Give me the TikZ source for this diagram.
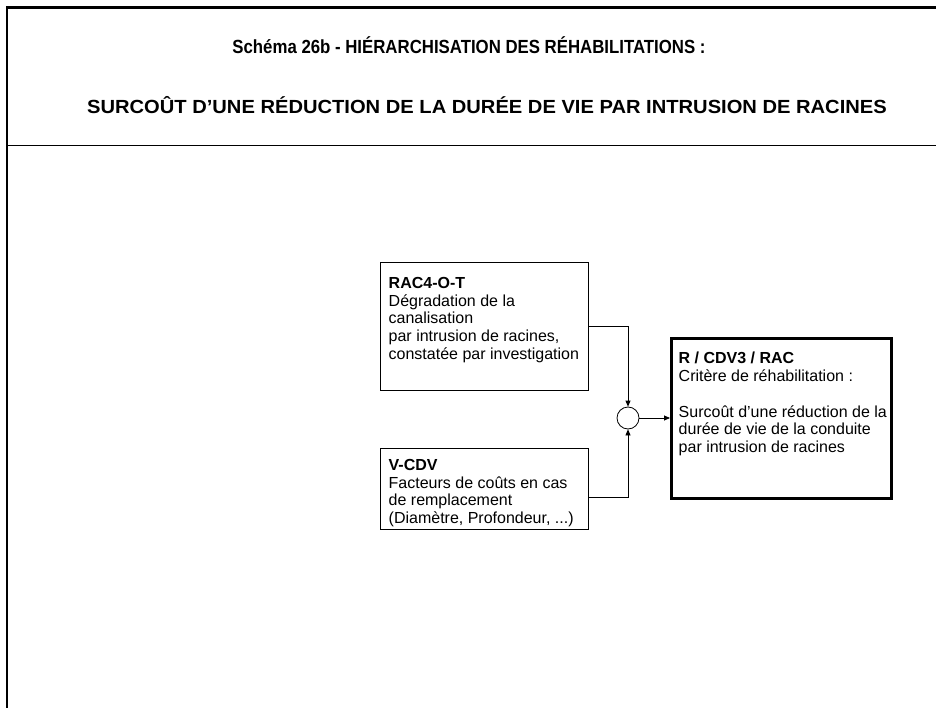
\documentclass[tikz,border=0pt]{standalone}
\usepackage{fontspec}
\setmainfont{Liberation Sans}
\usetikzlibrary{arrows.meta}
\tikzset{
  box/.style={draw, line width=0.9pt, rectangle, inner sep=0pt, anchor=north west},
  txt/.style={inner sep=0pt, anchor=north west, align=left, font=\fontsize{16}{17.8}\selectfont},
  ttl/.style={inner sep=0pt, anchor=base, font=\bfseries\fontsize{19}{22}\selectfont},
  conn/.style={line width=0.8pt},
  arr/.style={line width=0.8pt, -{Triangle[length=6pt,width=5pt]}}
}
\begin{document}
\begin{tikzpicture}[x=1pt,y=-1pt]
\useasboundingbox (0,0) rectangle (936,708);
\fill[white] (0,0) rectangle (936,708);
% frame
\coordinate (ftl) at (7,7.5);
\coordinate (ftr) at (936,7.5);
\coordinate (fbl) at (7,708);
\coordinate (sepl) at (7,146);
\coordinate (sepr) at (936,146);
\draw[line width=2.5pt] (ftr) -- (ftl) -- (fbl);
\draw[line width=1pt] (sepl) -- (sepr);
% title
\node[ttl] (t1) at (469,54) {\scalebox{0.884}[1]{Schéma 26b - HIÉRARCHISATION DES RÉHABILITATIONS :}};
\node[ttl] (t2) at (487,114) {\scalebox{1.06}[1]{SURCOÛT D’UNE RÉDUCTION DE LA DURÉE DE VIE PAR INTRUSION DE RACINES}};
% boxes
\node[box, minimum width=208pt, minimum height=128pt] (b1) at (380,262) {};
\node[txt] (b1t) at ([xshift=8.5pt,yshift=-15pt]b1.north west) {\textbf{RAC4-O-T}\\Dégradation de la\\canalisation\\par intrusion de racines,\\constatée par investigation};
\node[box, minimum width=208pt, minimum height=81pt] (b2) at (380,448) {};
\node[txt] (b2t) at ([xshift=8.5pt,yshift=-11pt]b2.north west) {\textbf{V-CDV}\\Facteurs de coûts en cas\\de remplacement\\(Diamètre, Profondeur, ...)};
\node[box, line width=3pt, minimum width=220pt, minimum height=160pt] (b3) at (670,337) {};
\node[txt] (b3t) at ([xshift=8.5pt,yshift=-15pt]b3.north west) {\textbf{R / CDV3 / RAC}\\Critère de réhabilitation :\\[17.8pt]Surcoût d’une réduction de la\\durée de vie de la conduite\\par intrusion de racines};
% junction
\node[draw, circle, line width=0.8pt, minimum size=22pt, inner sep=0pt] (c) at (628,418) {};
\draw[arr] (b1.east) -| (c.north);
\draw[arr] ([yshift=-8.5pt]b2.east) -| (c.south);
\draw[arr] (c.east) -- (c.east -| b3.west);
\end{tikzpicture}
\end{document}
